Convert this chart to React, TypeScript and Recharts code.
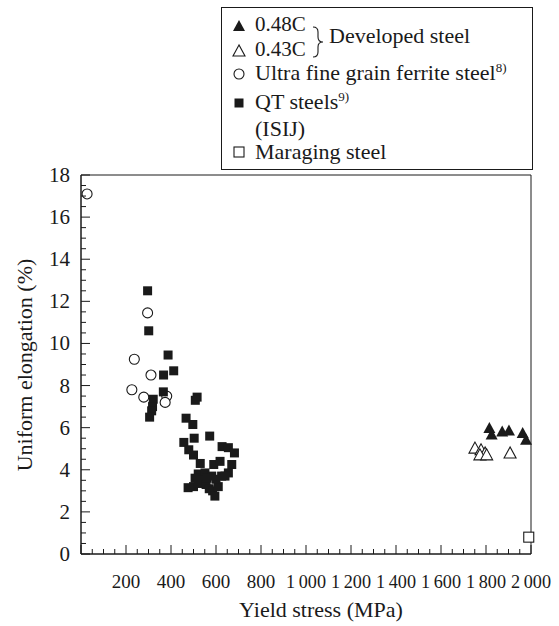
import React from "react";
import {
  ScatterChart,
  Scatter,
  XAxis,
  YAxis,
  ReferenceArea,
} from "recharts";

// yield stress (MPa) / uniform elongation (%)
const steel048C = [
  { x: 1815, y: 5.99 },
  { x: 1825, y: 5.67 },
  { x: 1872, y: 5.82 },
  { x: 1902, y: 5.87 },
  { x: 1963, y: 5.75 },
  { x: 1978, y: 5.43 },
];

const steel043C = [
  { x: 1751, y: 5.03 },
  { x: 1778, y: 4.95 },
  { x: 1796, y: 4.8 },
  { x: 1773, y: 4.71 },
  { x: 1803, y: 4.71 },
  { x: 1907, y: 4.8 },
];

const ultraFineGrain = [
  { x: 27, y: 17.1 },
  { x: 296, y: 11.45 },
  { x: 237, y: 9.25 },
  { x: 311, y: 8.5 },
  { x: 226, y: 7.8 },
  { x: 279, y: 7.45 },
  { x: 381, y: 7.5 },
  { x: 374, y: 7.2 },
];

const qtSteels = [
  { x: 296, y: 12.5 },
  { x: 301, y: 10.6 },
  { x: 387, y: 9.45 },
  { x: 412, y: 8.7 },
  { x: 367, y: 8.5 },
  { x: 366, y: 7.7 },
  { x: 321, y: 7.35 },
  { x: 318, y: 7.0 },
  { x: 314, y: 6.8 },
  { x: 305, y: 6.5 },
  { x: 516, y: 7.45 },
  { x: 508, y: 7.3 },
  { x: 467, y: 6.45 },
  { x: 497, y: 6.15 },
  { x: 503, y: 5.5 },
  { x: 572, y: 5.6 },
  { x: 457, y: 5.3 },
  { x: 479, y: 4.95 },
  { x: 500, y: 4.7 },
  { x: 627, y: 5.1 },
  { x: 655, y: 5.05 },
  { x: 682, y: 4.8 },
  { x: 530, y: 4.3 },
  { x: 590, y: 4.25 },
  { x: 618, y: 4.4 },
  { x: 670, y: 4.25 },
  { x: 521, y: 3.8 },
  { x: 551, y: 3.85 },
  { x: 581, y: 3.7 },
  { x: 625, y: 3.7 },
  { x: 655, y: 3.85 },
  { x: 507, y: 3.6 },
  { x: 476, y: 3.15 },
  { x: 500, y: 3.2 },
  { x: 522, y: 3.35 },
  { x: 540, y: 3.5 },
  { x: 556, y: 3.3 },
  { x: 570, y: 3.1 },
  { x: 585, y: 3.0 },
  { x: 595, y: 2.75 },
  { x: 610, y: 3.2 },
  { x: 600, y: 3.55 },
  { x: 640, y: 3.7 },
  { x: 560, y: 3.6 },
];

const maraging = [{ x: 1990, y: 0.8 }];

const xTicks = Array.from({ length: 41 }, (_, i) => i * 50);
const yTicks = Array.from({ length: 37 }, (_, i) => i * 0.5);

const ink = "#1a1a1a";
const font = "Liberation Serif, Tinos, Times New Roman, DejaVu Serif, serif";

const fmtX = (v: number) =>
  v >= 1000 ? `${Math.floor(v / 1000)}\u2009${String(v % 1000).padStart(3, "0")}` : String(v);

const XTick = (props: any) => {
  const { x, y, payload } = props;
  const v = payload.value;
  const major = v % 200 === 0;
  const wide = v >= 1000;
  return (
    <g>
      <line x1={x} x2={x} y1={y} y2={y - (major ? 9 : 5)} stroke={ink} />
      {major && v > 0 && (
        <text
          x={x}
          y={y + 34}
          textAnchor="middle"
          style={{ fontFamily: font, fontSize: 19 }}
          fill={ink}
          {...(wide ? { textLength: 40, lengthAdjust: "spacingAndGlyphs" } : {})}
        >
          {fmtX(v)}
        </text>
      )}
    </g>
  );
};

const YTick = (props: any) => {
  const { x, y, payload } = props;
  const v = payload.value;
  const major = v % 2 === 0;
  return (
    <g>
      <line x1={x} x2={x + (major ? 9 : 5)} y1={y} y2={y} stroke={ink} />
      {major && (
        <text x={x - 11} y={y + 7} textAnchor="end" style={{ fontFamily: font, fontSize: 21 }} fill={ink}>
          {v}
        </text>
      )}
    </g>
  );
};

const FilledTri = ({ cx, cy }: any) => (
  <polygon points={`${cx},${cy - 6} ${cx - 6},${cy + 5} ${cx + 6},${cy + 5}`} fill={ink} />
);
const OpenTri = ({ cx, cy }: any) => (
  <polygon points={`${cx},${cy - 6} ${cx - 6},${cy + 5} ${cx + 6},${cy + 5}`} fill="#fff" stroke={ink} strokeWidth={1.1} />
);
const OpenCircle = ({ cx, cy }: any) => (
  <circle cx={cx} cy={cy} r={5} fill="#fff" stroke={ink} strokeWidth={1.1} />
);
const FilledSquare = ({ cx, cy }: any) => (
  <rect x={cx - 4.5} y={cy - 4.5} width={9} height={9} fill={ink} />
);
const OpenSquare = ({ cx, cy }: any) => (
  <rect x={cx - 5} y={cy - 5} width={10} height={10} fill="#fff" stroke={ink} strokeWidth={1.1} />
);

const LegendBox = () => (
  <svg width={312} height={163} style={{ position: "absolute", left: 221, top: 7 }}>
    <rect x={0.5} y={0.5} width={311} height={162} fill="#fff" stroke={ink} />
    <g style={{ fontFamily: font }} fill={ink}>
      <FilledTri cx={18} cy={19} />
      <text x={34} y={24} style={{ fontSize: 21 }}>0.48C</text>
      <OpenTri cx={18} cy={44} />
      <text x={34} y={49} style={{ fontSize: 21 }}>0.43C</text>
      <path d="M92,20 q5,0 5,5 v5 q0,5 5,5 q-5,0 -5,5 v5 q0,5 -5,5" fill="none" stroke={ink} strokeWidth={1.1} />
      <text x={108} y={36} style={{ fontSize: 22 }}>Developed steel</text>
      <OpenCircle cx={18} cy={67} />
      <text x={34} y={73} style={{ fontSize: 22 }}>
        Ultra fine grain ferrite steel
        <tspan style={{ fontSize: 13 }} dy={-8}>8)</tspan>
      </text>
      <FilledSquare cx={18} cy={96} />
      <text x={34} y={102} style={{ fontSize: 22 }}>
        QT steels
        <tspan style={{ fontSize: 13 }} dy={-8}>9)</tspan>
      </text>
      <text x={34} y={129} style={{ fontSize: 22 }}>(ISIJ)</text>
      <OpenSquare cx={18} cy={145} />
      <text x={34} y={152} style={{ fontSize: 22 }}>Maraging steel</text>
    </g>
  </svg>
);

export default function App() {
  return (
    <div style={{ position: "absolute", left: 0, top: 0, width: 559, height: 626, background: "#fff", fontFamily: font }}>
      <ScatterChart width={559} height={626} margin={{ top: 175, right: 28, bottom: 22, left: 0 }}>
        <XAxis
          type="number"
          dataKey="x"
          domain={[0, 2000]}
          ticks={xTicks}
          interval={0}
          tickSize={0}
          tickMargin={0}
          tick={<XTick />}
          tickLine={false}
          axisLine={{ stroke: ink }}
          height={50}
          label={{
            content: () => (
              <text x={321} y={617} textAnchor="middle" style={{ fontFamily: font, fontSize: 22 }} fill={ink}>
                Yield stress (MPa)
              </text>
            ),
          }}
        />
        <YAxis
          type="number"
          dataKey="y"
          domain={[0, 18]}
          ticks={yTicks}
          interval={0}
          tickSize={0}
          tickMargin={0}
          tick={<YTick />}
          tickLine={false}
          axisLine={{ stroke: ink }}
          width={81}
          label={{
            content: () => (
              <text
                x={24}
                y={365}
                transform="rotate(-90 24 365)"
                textAnchor="middle"
                dominantBaseline="central"
                style={{ fontFamily: font, fontSize: 22 }}
                fill={ink}
              >
                Uniform elongation (%)
              </text>
            ),
          }}
        />
        <ReferenceArea x1={0} x2={2000} y1={0} y2={18} fill="none" stroke={ink} ifOverflow="visible" />
        <Scatter name="Ultra fine grain ferrite steel" data={ultraFineGrain} shape={<OpenCircle />} isAnimationActive={false} />
        <Scatter name="QT steels" data={qtSteels} shape={<FilledSquare />} isAnimationActive={false} />
        <Scatter name="0.43C" data={steel043C} shape={<OpenTri />} isAnimationActive={false} />
        <Scatter name="0.48C" data={steel048C} shape={<FilledTri />} isAnimationActive={false} />
        <Scatter name="Maraging steel" data={maraging} shape={<OpenSquare />} isAnimationActive={false} />
      </ScatterChart>
      <LegendBox />
    </div>
  );
}
